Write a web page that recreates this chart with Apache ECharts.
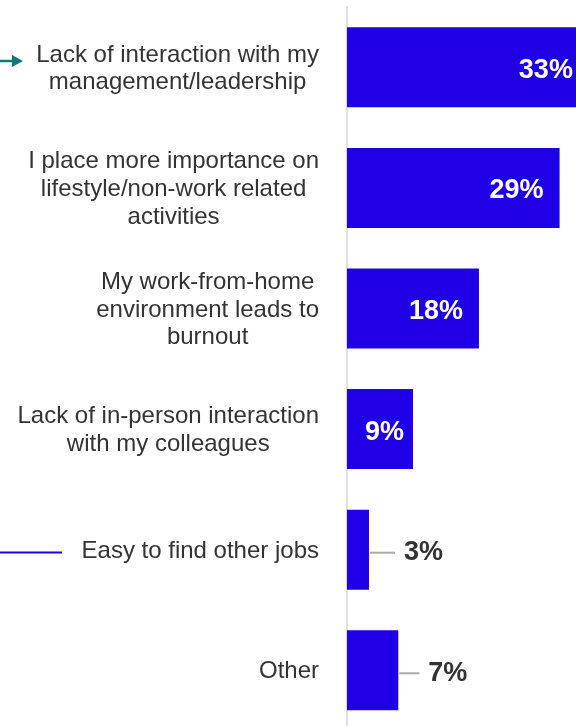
<!DOCTYPE html>
<html><head><meta charset="utf-8">
<script src="https://cdn.jsdelivr.net/npm/echarts@6/dist/echarts.min.js"></script>
<style>html,body{margin:0;padding:0;background:#fff}#c{width:576px;height:726px}</style>
</head><body><div id="c"></div>
<script>
const categories = [
  "Lack of interaction with my\nmanagement/leadership",
  "I place more importance on\nlifestyle/non-work related\nactivities",
  "My work-from-home\nenvironment leads to\nburnout",
  "Lack of in-person interaction\nwith my colleagues",
  "Easy to find other jobs",
  "Other"
];
const values = [33, 29, 18, 9, 3, 7];
const outsideIdx = [4, 5];
const leaderLen = {4: 25, 5: 20};

const chart = echarts.init(document.getElementById('c'), null, {renderer: 'canvas'});
const pxPerUnit = 7.33;
const gridLeft = 347;
const xMax = (576 - gridLeft) / pxPerUnit;

const FONT = 'Liberation Sans, Arial, sans-serif';

const data = values.map((v, i) => {
  const outside = outsideIdx.includes(i);
  return {
    value: v,
    label: outside ? {
      position: 'right', distance: 1,
      formatter: '{l|}{v|{c}%}',
      rich: {
        l: {width: leaderLen[i], height: 2, backgroundColor: '#aaaaaa'},
        v: {padding: [0, 0, 0, 9], fontFamily: FONT, fontWeight: 'bold', fontSize: 27, color: '#333333'}
      }
    } : {
      position: 'insideRight', distance: i === 3 ? 9 : 16, color: '#ffffff',
      formatter: '{c}%'
    }
  };
});

chart.setOption({
  animation: false,
  grid: {left: gridLeft, top: 7, height: 723.6, width: 576 - gridLeft, containLabel: false, outerBoundsMode: 'none'},
  xAxis: {type: 'value', min: 0, max: xMax, show: false},
  yAxis: {
    type: 'category', inverse: true, data: categories,
    axisLine: {show: true, lineStyle: {color: '#dedede', width: 2}},
    axisTick: {show: false},
    axisLabel: {
      margin: 28, align: 'right', padding: [3, 0, 0, 0],
      fontFamily: FONT, fontSize: 24, color: '#333333', lineHeight: 27.7,
      formatter: function (v) { return v.split('\n').map(l => '{c|' + l + '}').join('\n'); },
      rich: {c: {align: 'center', fontFamily: FONT, fontSize: 24, color: '#333333', lineHeight: 27.7}}
    }
  },
  series: [{
    type: 'bar', data: data, barWidth: 80, clip: false,
    itemStyle: {color: '#1F00E6'},
    label: {
      show: true, offset: [0, 3],
      fontFamily: FONT, fontWeight: 'bold', fontSize: 27
    }
  }],
  graphic: [
    {type: 'line', shape: {x1: 0, y1: 61, x2: 14, y2: 61}, style: {stroke: '#0B7A75', lineWidth: 2.5}},
    {type: 'polygon', shape: {points: [[12, 55], [23, 61], [12, 67]]}, style: {fill: '#0B7A75'}},
    {type: 'line', shape: {x1: 0, y1: 552.5, x2: 62, y2: 552.5}, style: {stroke: '#1F00E6', lineWidth: 2}}
  ]
});
</script></body></html>
